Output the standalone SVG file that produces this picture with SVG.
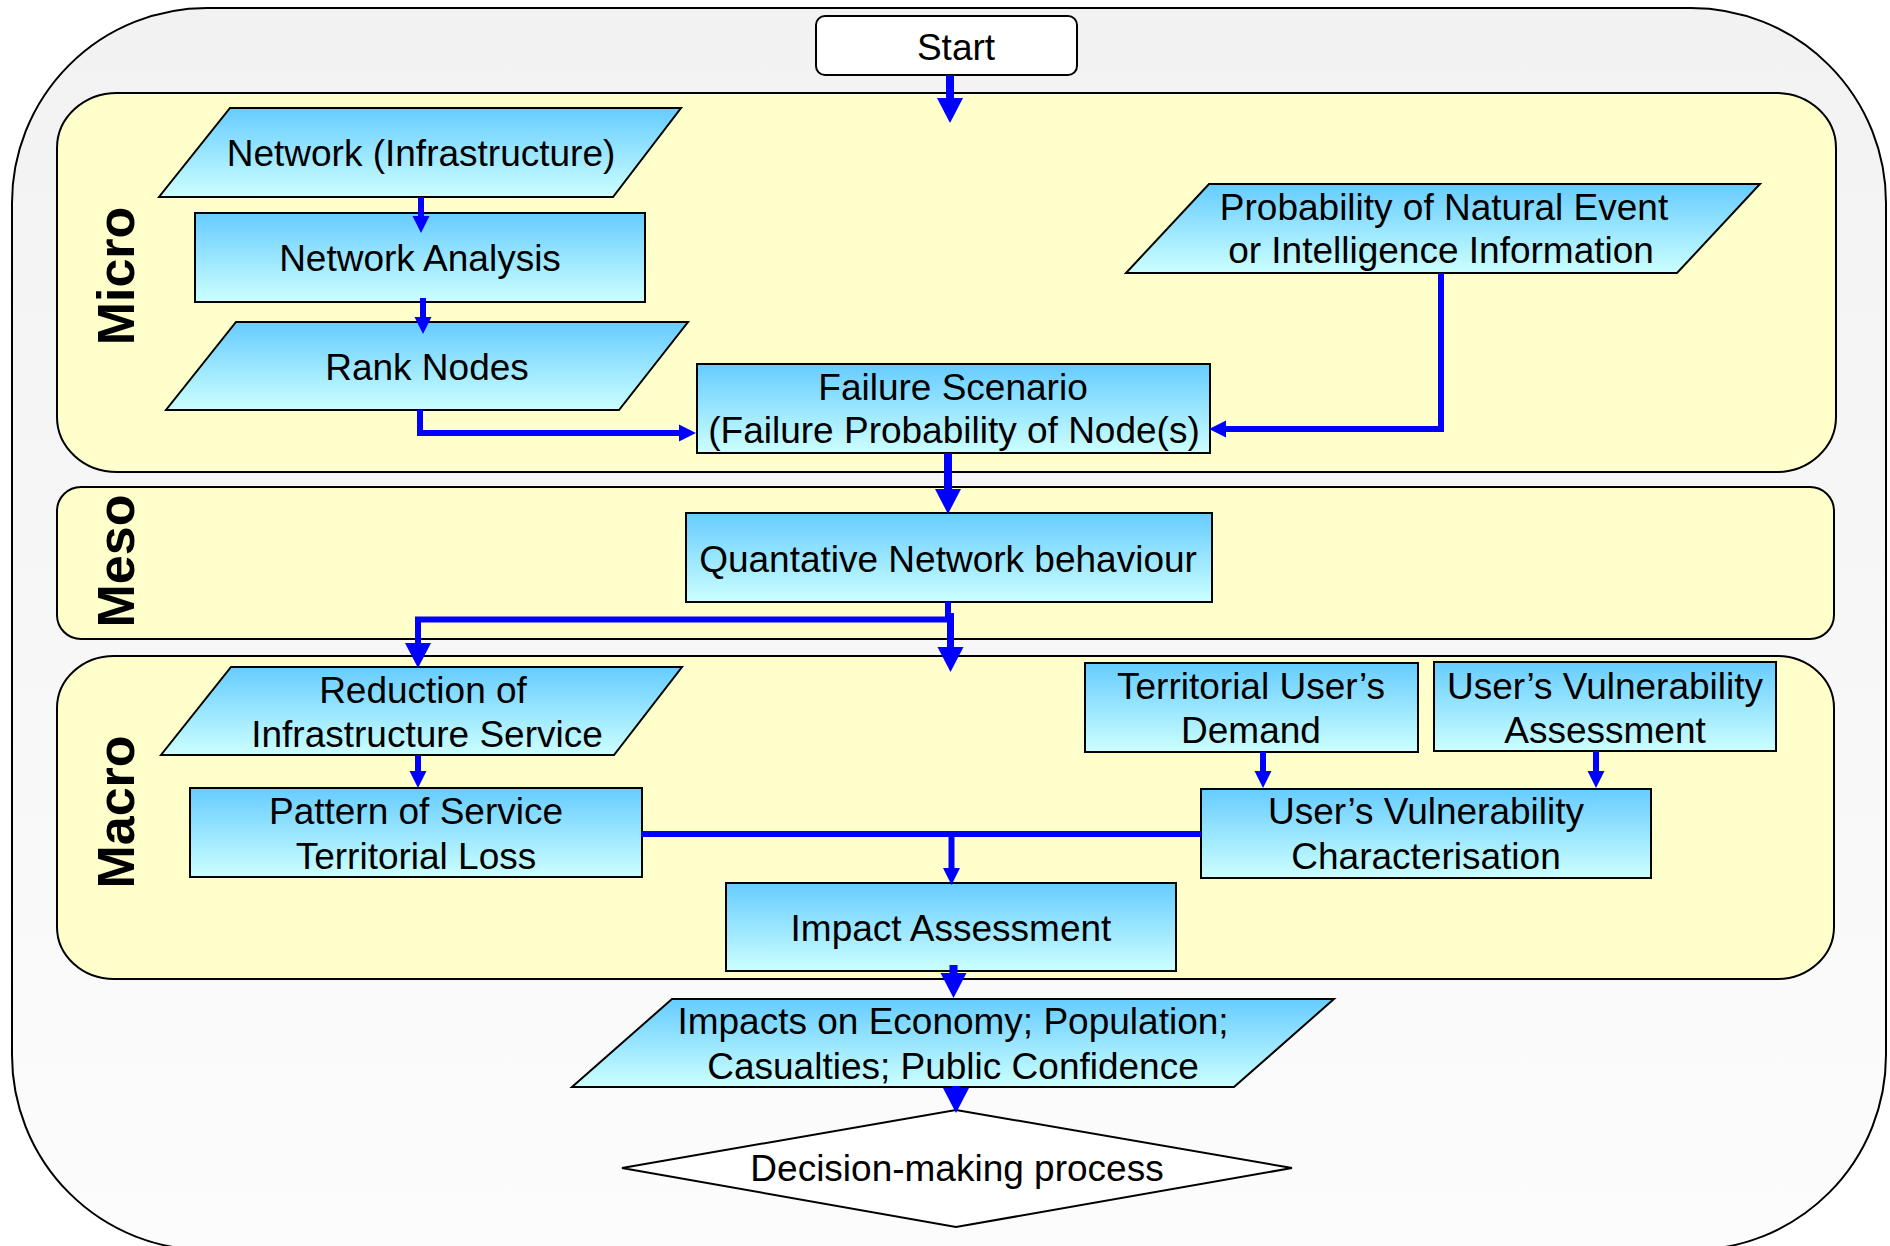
<svg xmlns="http://www.w3.org/2000/svg" width="1890" height="1246" viewBox="0 0 1890 1246">
<defs>
<linearGradient id="bg" x1="0" y1="0" x2="0" y2="1"><stop offset="0" stop-color="#f2f2f2"/><stop offset="1" stop-color="#fcfcfc"/></linearGradient>
<linearGradient id="nodeFill" x1="0" y1="0" x2="0" y2="1"><stop offset="0" stop-color="#66ccff"/><stop offset="1" stop-color="#ccffff"/></linearGradient>
<marker id="bigHead" markerUnits="userSpaceOnUse" viewBox="0 -14 26 28" refX="0" refY="0" markerWidth="26" markerHeight="28" orient="auto" overflow="visible"><path d="M0,-13 L25,0 L0,13 z" fill="#0000ff"/></marker>
<marker id="smallHead" markerUnits="userSpaceOnUse" viewBox="0 -9 18 18" refX="0" refY="0" markerWidth="18" markerHeight="18" orient="auto" overflow="visible"><path d="M0,-8.5 L17,0 L0,8.5 z" fill="#0000ff"/></marker>
</defs>
<style>
.band{fill:#ffffcc;stroke:#000;stroke-width:2}
.node{fill:url(#nodeFill);stroke:#000;stroke-width:2}
.plain{fill:#fff;stroke:#000;stroke-width:2}
.t{font-family:"Liberation Sans",Arial,sans-serif;font-size:37px;fill:#000;text-anchor:middle}
.lbl{font-family:"Liberation Sans",Arial,sans-serif;font-size:52px;font-weight:bold;fill:#000;text-anchor:middle}
.c{fill:none;stroke:#0000ff;stroke-linejoin:miter}
.thin{stroke-width:6;marker-end:url(#smallHead)}
.thick{stroke-width:8;marker-end:url(#bigHead)}
</style>
<rect id="frame" x="12" y="8" width="1874" height="1242" rx="195" ry="195" fill="url(#bg)" stroke="#000" stroke-width="2"/>
<g id="band-micro"><rect class="band" x="57" y="93" width="1779" height="379" rx="60" ry="55"/><text class="lbl" transform="translate(134,276) rotate(-90)">Micro</text></g>
<g id="band-meso"><rect class="band" x="57" y="487" width="1777" height="152" rx="24" ry="24"/><text class="lbl" transform="translate(134,561) rotate(-90)">Meso</text></g>
<g id="band-macro"><rect class="band" x="57" y="656" width="1777" height="323" rx="57" ry="52"/><text class="lbl" transform="translate(134,812) rotate(-90)">Macro</text></g>

<g id="start"><rect class="plain" x="816" y="16" width="261" height="59" rx="9" ry="9"/><text class="t" x="956" y="60">Start</text></g>
<g id="network-infrastructure"><polygon class="node" points="230,108 681,108 613,197 159,197"/><text class="t" x="421" y="166">Network (Infrastructure)</text></g>
<g id="network-analysis"><rect class="node" x="195" y="213" width="450" height="89"/><text class="t" x="420" y="271">Network Analysis</text></g>
<g id="rank-nodes"><polygon class="node" points="236,322 688,322 619,410 166,410"/><text class="t" x="427" y="380">Rank Nodes</text></g>
<g id="probability"><polygon class="node" points="1209,184 1760,184 1677,273 1126,273"/><text class="t" x="1444" y="220">Probability of Natural Event</text><text class="t" x="1441" y="263">or Intelligence Information</text></g>
<g id="failure-scenario"><rect class="node" x="697" y="364" width="513" height="89"/><text class="t" x="953" y="400">Failure Scenario</text><text class="t" x="954" y="443">(Failure Probability of Node(s)</text></g>
<g id="quantative"><rect class="node" x="686" y="513" width="526" height="89"/><text class="t" x="948" y="572">Quantative Network behaviour</text></g>
<g id="reduction"><polygon class="node" points="231,667 682,667 614,755 161,755"/><text class="t" x="423" y="703">Reduction of</text><text class="t" x="427" y="747">Infrastructure Service</text></g>
<g id="pattern"><rect class="node" x="190" y="788" width="452" height="89"/><text class="t" x="416" y="824">Pattern of Service</text><text class="t" x="416" y="869">Territorial Loss</text></g>
<g id="territorial-demand"><rect class="node" x="1085" y="663" width="333" height="89"/><text class="t" x="1251" y="699">Territorial User’s</text><text class="t" x="1251" y="743">Demand</text></g>
<g id="vulnerability-assessment"><rect class="node" x="1434" y="662" width="342" height="89"/><text class="t" x="1605" y="699">User’s Vulnerability</text><text class="t" x="1605" y="743">Assessment</text></g>
<g id="vulnerability-characterisation"><rect class="node" x="1201" y="789" width="450" height="89"/><text class="t" x="1426" y="824">User’s Vulnerability</text><text class="t" x="1426" y="869">Characterisation</text></g>
<g id="impact-assessment"><rect class="node" x="726" y="883" width="450" height="88"/><text class="t" x="951" y="941">Impact Assessment</text></g>
<g id="impacts"><polygon class="node" points="672,999 1334,999 1234,1087 572,1087"/><text class="t" x="953" y="1034">Impacts on Economy; Population;</text><text class="t" x="953" y="1079">Casualties; Public Confidence</text></g>
<g id="decision"><polygon class="plain" points="956,1110 1292,1168 956,1227 622,1168"/><text class="t" x="957" y="1181">Decision-making process</text></g>

<g id="connectors">
<path class="c thick" d="M950,75 V98"/>
<path class="c thin" stroke-width="5" d="M421,197 V216"/>
<path class="c thin" stroke-width="5" d="M423,298 V317"/>
<path class="c thin" d="M420,410 V433 H679"/>
<path class="c thin" d="M1441,273 V429 H1226"/>
<path class="c thick" d="M948,453 V489"/>
<path class="c thick" style="stroke-width:6" d="M948,602 V619.5 H418 V643"/>
<path class="c thick" style="stroke-width:7" d="M950.5,613 V647"/>
<path class="c thin" d="M418,755 V771"/>
<path class="c" stroke-width="6" d="M641,834 H1201"/>
<path class="c thin" d="M951.5,834 V868"/>
<path class="c thin" d="M1263,752 V771"/>
<path class="c thin" d="M1596,751 V771"/>
<path class="c thick" d="M953.5,965 V973"/>
<path class="c thick" d="M956,1086 V1088"/>
</g>
</svg>
